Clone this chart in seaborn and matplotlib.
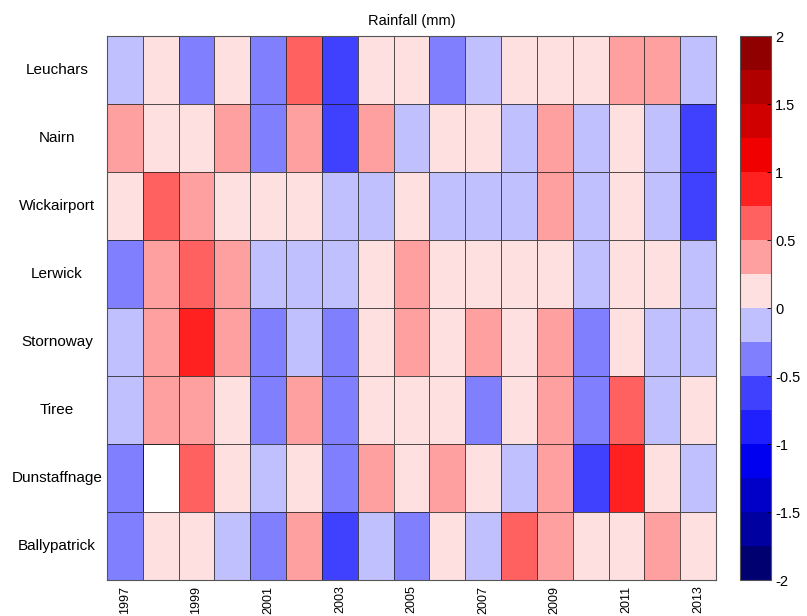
import numpy as np
import pandas as pd
import matplotlib
matplotlib.use("Agg")
import matplotlib.pyplot as plt
from matplotlib.colors import ListedColormap
import seaborn as sns

stations = ["Leuchars", "Nairn", "Wickairport", "Lerwick", "Stornoway",
            "Tiree", "Dunstaffnage", "Ballypatrick"]
years = list(range(1997, 2014))

leuchars     = [-0.1, 0.1, -0.4, 0.1, -0.4, 0.6, -0.6, 0.1, 0.1, -0.4, -0.1, 0.1, 0.1, 0.1, 0.4, 0.4, -0.1]
nairn        = [0.4, 0.1, 0.1, 0.4, -0.4, 0.4, -0.6, 0.4, -0.1, 0.1, 0.1, -0.1, 0.4, -0.1, 0.1, -0.1, -0.6]
wickairport  = [0.1, 0.6, 0.4, 0.1, 0.1, 0.1, -0.1, -0.1, 0.1, -0.1, -0.1, -0.1, 0.4, -0.1, 0.1, -0.1, -0.6]
lerwick      = [-0.4, 0.4, 0.6, 0.4, -0.1, -0.1, -0.1, 0.1, 0.4, 0.1, 0.1, 0.1, 0.1, -0.1, 0.1, 0.1, -0.1]
stornoway    = [-0.1, 0.4, 0.9, 0.4, -0.4, -0.1, -0.4, 0.1, 0.4, 0.1, 0.4, 0.1, 0.4, -0.4, 0.1, -0.1, -0.1]
tiree        = [-0.1, 0.4, 0.4, 0.1, -0.4, 0.4, -0.4, 0.1, 0.1, 0.1, -0.4, 0.1, 0.4, -0.4, 0.6, -0.1, 0.1]
dunstaffnage = [-0.4, np.nan, 0.6, 0.1, -0.1, 0.1, -0.4, 0.4, 0.1, 0.4, 0.1, -0.1, 0.4, -0.6, 0.9, 0.1, -0.1]
ballypatrick = [-0.4, 0.1, 0.1, -0.1, -0.4, 0.4, -0.6, -0.1, -0.4, 0.1, -0.1, 0.6, 0.4, 0.1, 0.1, 0.4, 0.1]

level_colors = ["#000070", "#0000A0", "#0000C8", "#0000F0", "#2020FF", "#4040FF",
                "#8080FF", "#C0C0FF", "#FFE0E0", "#FFA0A0", "#FF6060", "#FF2020",
                "#F00000", "#D00000", "#B00000", "#900000"]

df = pd.DataFrame([leuchars, nairn, wickairport, lerwick, stornoway, tiree,
                   dunstaffnage, ballypatrick], index=stations, columns=years)

plt.rcParams['font.family'] = ['Liberation Sans', 'DejaVu Sans']

fig = plt.figure(figsize=(8.07, 6.16), dpi=100)
ax = fig.add_axes([107/807, 1 - 580/616, (716-107)/807, (580-36)/616])
cax = fig.add_axes([740/807, 1 - 580/616, 31/807, (580-36)/616])

cmap = ListedColormap(level_colors)
sns.heatmap(df, ax=ax, cbar_ax=cax, cmap=cmap, vmin=-2, vmax=2,
            linewidths=0.6, linecolor=(0.1, 0.1, 0.1, 0.75),
            xticklabels=2, yticklabels=True)

ax.set_title("Rainfall (mm)", fontsize=10.5, pad=8)
ax.set_xlabel("")
ax.set_ylabel("")
ax.tick_params(axis='x', rotation=90, labelsize=9, length=0, pad=4)
ax.tick_params(axis='y', rotation=0, labelsize=11, length=0, pad=36)
for lbl in ax.get_yticklabels():
    lbl.set_horizontalalignment('center')
for s in ax.spines.values():
    s.set_visible(True)
    s.set_color("#555555")
    s.set_linewidth(0.8)

cb = ax.collections[0].colorbar
cb.set_ticks(np.arange(-2, 2.01, 0.5))
cb.set_ticklabels(["-2", "-1.5", "-1", "-0.5", "0", "0.5", "1", "1.5", "2"])
cb.ax.tick_params(labelsize=10.5, length=3, width=0.6, direction='in', pad=3)
cb.outline.set_visible(True)
cb.outline.set_edgecolor("#555555")
cb.outline.set_linewidth(0.8)

fig.savefig("out.png", dpi=100)
